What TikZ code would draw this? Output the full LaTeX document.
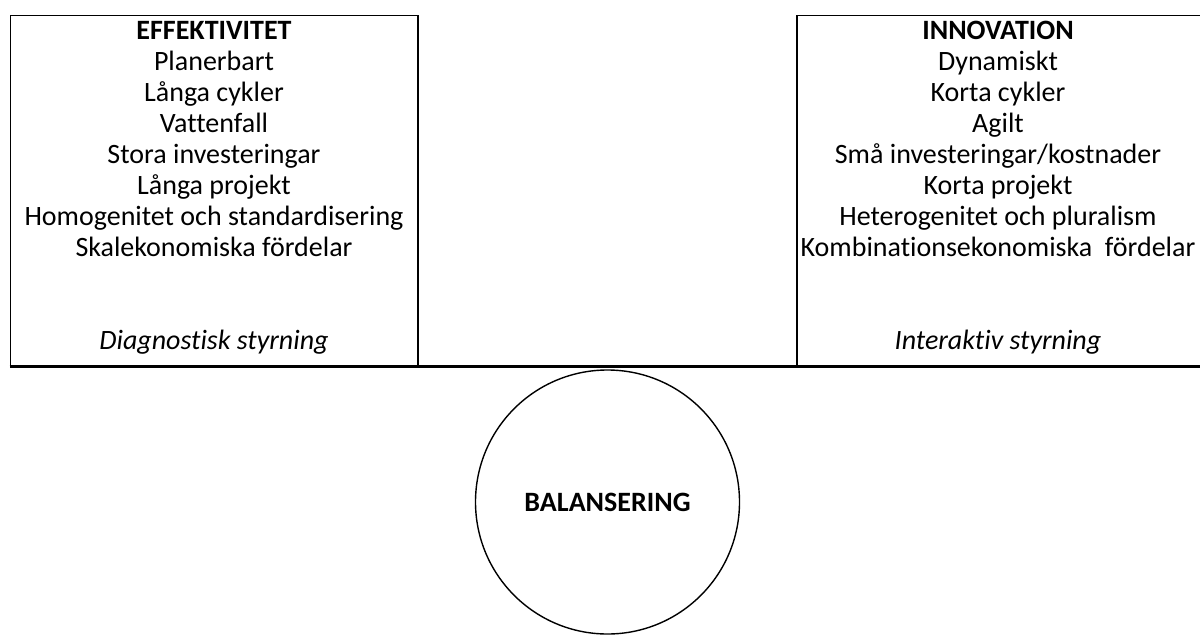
\documentclass[tikz,border=0pt]{standalone}
\usepackage{fontspec}
\setmainfont{Carlito}[Ligatures=NoCommon]
\begin{document}
\begin{tikzpicture}[x=1pt,y=-1pt,
  boxline/.style={draw=black,line width=1.6pt},
  txt/.style={align=center,anchor=north,font=\fontsize{28}{31}\selectfont,inner sep=0pt},
  ctitle/.style={font=\fontsize{28}{31}\selectfont\bfseries,inner sep=0pt}]
\useasboundingbox (0,0) rectangle (1200,635);
% boxes
\draw[boxline] (10.5,367) -- (10.5,15.5) -- (418,15.5) -- (418,367);
\draw[boxline] (797,367) -- (797,15.5) -- (1210,15.5);
% base line
\coordinate (bl) at (9.5,366.5);
\coordinate (br) at (1210,366.5);
\draw[line width=3.2pt] (bl) -- (br);
% texts
\node[txt] (eff) at (214,21) {\textbf{EFFEKTIVITET}\\Planerbart\\Långa cykler\\Vattenfall\\Stora investeringar\\Långa projekt\\Homogenitet och standardisering\\Skalekonomiska fördelar\\[62pt]\textit{Diagnostisk styrning}};
\node[txt] (inn) at (998,21) {\textbf{INNOVATION}\\Dynamiskt\\Korta cykler\\Agilt\\Små investeringar/kostnader\\Korta projekt\\Heterogenitet och pluralism\\Kombinationsekonomiska\ \ fördelar\\[62pt]\textit{Interaktiv styrning}};
% circle
\node[draw=black,line width=1.4pt,circle,minimum size=264pt,inner sep=0pt] (bal) at (607.5,502) {};
\node[ctitle] (baltxt) at (bal.center) {BALANSERING};
\end{tikzpicture}
\end{document}
